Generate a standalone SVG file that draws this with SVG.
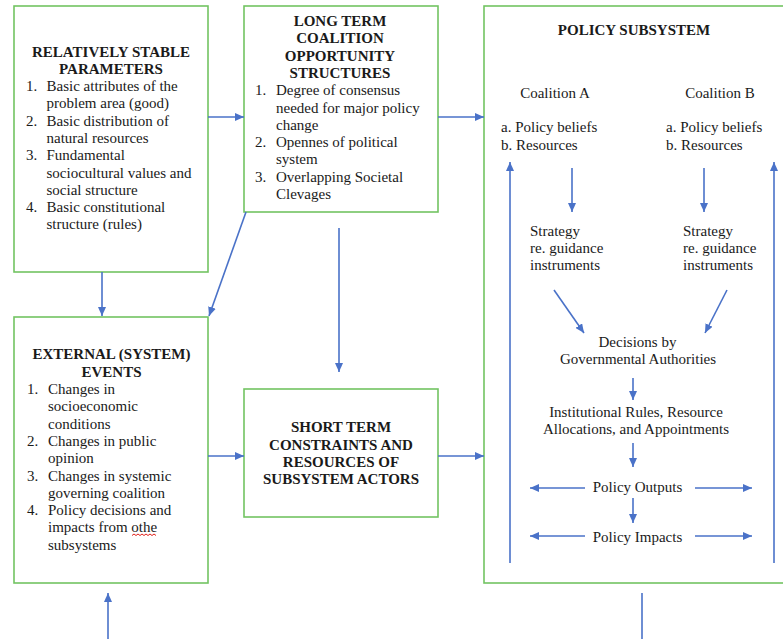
<svg xmlns="http://www.w3.org/2000/svg" width="783" height="639" viewBox="0 0 783 639">
<style>
.box{fill:#fff;stroke:#72c462;stroke-width:1.6}
text{font-family:"Liberation Serif","Times New Roman",serif;font-size:15px;fill:#1a1a1a}
.t{font-weight:bold;text-anchor:middle}
.c{text-anchor:middle}
.ln{stroke:#4a72c8;stroke-width:1.6;fill:none}
.a{marker-end:url(#ah)}
</style>
<defs>
<marker id="ah" markerUnits="userSpaceOnUse" markerWidth="10" markerHeight="8" refX="9" refY="4" orient="auto">
<path d="M0,0 L9,4 L0,8 z" fill="#4a72c8"/>
</marker>
</defs>
<rect width="783" height="639" fill="#fff"/>

<g id="stable">
<rect class="box" x="14" y="6" width="194" height="266"/>
<text class="t" x="111" y="57">RELATIVELY STABLE</text>
<text class="t" x="111" y="74.3">PARAMETERS</text>
<text x="26" y="91">1.</text><text x="46.5" y="91">Basic attributes of the</text>
<text x="46.5" y="108.3">problem area (good)</text>
<text x="26" y="125.6">2.</text><text x="46.5" y="125.6">Basic distribution of</text>
<text x="46.5" y="142.9">natural resources</text>
<text x="26" y="160.2">3.</text><text x="46.5" y="160.2">Fundamental</text>
<text x="46.5" y="177.5">sociocultural values and</text>
<text x="46.5" y="194.8">social structure</text>
<text x="26" y="212.1">4.</text><text x="46.5" y="212.1">Basic constitutional</text>
<text x="46.5" y="229.4">structure (rules)</text>
</g>

<g id="longterm">
<rect class="box" x="244" y="6" width="194" height="206"/>
<text class="t" x="340" y="26">LONG TERM</text>
<text class="t" x="340" y="43.3">COALITION</text>
<text class="t" x="340" y="60.6">OPPORTUNITY</text>
<text class="t" x="340" y="77.9">STRUCTURES</text>
<text x="255" y="95.2">1.</text><text x="276" y="95.2">Degree of consensus</text>
<text x="276" y="112.5">needed for major policy</text>
<text x="276" y="129.8">change</text>
<text x="255" y="147.1">2.</text><text x="276" y="147.1">Opennes of political</text>
<text x="276" y="164.4">system</text>
<text x="255" y="181.7">3.</text><text x="276" y="181.7">Overlapping Societal</text>
<text x="276" y="199">Clevages</text>
</g>

<g id="external">
<rect class="box" x="14" y="317" width="194" height="266"/>
<text class="t" x="111.5" y="359.3">EXTERNAL (SYSTEM)</text>
<text class="t" x="111.5" y="376.6">EVENTS</text>
<text x="27" y="394">1.</text><text x="48" y="394">Changes in</text>
<text x="48" y="411.3">socioeconomic</text>
<text x="48" y="428.6">conditions</text>
<text x="27" y="445.9">2.</text><text x="48" y="445.9">Changes in public</text>
<text x="48" y="463.2">opinion</text>
<text x="27" y="480.5">3.</text><text x="48" y="480.5">Changes in systemic</text>
<text x="48" y="497.8">governing coalition</text>
<text x="27" y="515.1">4.</text><text x="48" y="515.1">Policy decisions and</text>
<text x="48" y="532.4">impacts from othe</text>
<text x="48" y="549.7">subsystems</text>
<path d="M132,535.5 l2,-1.5 l2,1.5 l2,-1.5 l2,1.5 l2,-1.5 l2,1.5 l2,-1.5 l2,1.5 l2,-1.5 l2,1.5 l2,-1.5 l2,1.5" fill="none" stroke="#e0201a" stroke-width="1"/>
</g>

<g id="shortterm">
<rect class="box" x="244" y="389" width="194" height="128"/>
<text class="t" x="341" y="432.3">SHORT TERM</text>
<text class="t" x="341" y="449.6">CONSTRAINTS AND</text>
<text class="t" x="341" y="466.9">RESOURCES OF</text>
<text class="t" x="341" y="484.2">SUBSYSTEM ACTORS</text>
</g>

<g id="subsystem">
<rect class="box" x="484" y="6" width="310" height="577"/>
<text class="t" x="634" y="35">POLICY SUBSYSTEM</text>
<text class="c" x="555" y="98">Coalition A</text>
<text class="c" x="720" y="98">Coalition B</text>
<text x="501" y="132.3">a. Policy beliefs</text>
<text x="501" y="150">b. Resources</text>
<text x="666" y="132.3">a. Policy beliefs</text>
<text x="666" y="150">b. Resources</text>
<text x="530" y="235.5">Strategy</text>
<text x="530" y="252.7">re. guidance</text>
<text x="530" y="270">instruments</text>
<text x="683" y="235.5">Strategy</text>
<text x="683" y="252.7">re. guidance</text>
<text x="683" y="270">instruments</text>
<text class="c" x="637.5" y="346.7">Decisions by</text>
<text class="c" x="638" y="364">Governmental Authorities</text>
<text class="c" x="636" y="416.7">Institutional Rules, Resource</text>
<text class="c" x="636" y="434">Allocations, and Appointments</text>
<text class="c" x="637.5" y="491.7">Policy Outputs</text>
<text class="c" x="637.5" y="541.7">Policy Impacts</text>
</g>

<g id="connectors">
<line class="ln a" x1="208" y1="117" x2="244" y2="117"/>
<line class="ln a" x1="438" y1="117" x2="484" y2="117"/>
<line class="ln a" x1="102" y1="272" x2="102" y2="316"/>
<line class="ln a" x1="246" y1="212" x2="209" y2="316"/>
<line class="ln a" x1="339" y1="228" x2="339" y2="372"/>
<line class="ln a" x1="208" y1="456" x2="244" y2="456"/>
<line class="ln a" x1="438" y1="456" x2="484" y2="456"/>
<line class="ln a" x1="108" y1="639" x2="108" y2="593"/>
<line class="ln" x1="642" y1="593" x2="642" y2="639"/>
<line class="ln a" x1="510" y1="563" x2="510" y2="162"/>
<line class="ln a" x1="774" y1="563" x2="774" y2="162"/>
<line class="ln a" x1="572" y1="168" x2="572" y2="212"/>
<line class="ln a" x1="704" y1="168" x2="704" y2="212"/>
<line class="ln a" x1="554" y1="290" x2="584" y2="333"/>
<line class="ln a" x1="727" y1="290" x2="705" y2="333"/>
<line class="ln a" x1="633" y1="378" x2="633" y2="400"/>
<line class="ln a" x1="633" y1="443" x2="633" y2="467"/>
<line class="ln a" x1="633" y1="498" x2="633" y2="523"/>
<line class="ln a" x1="585" y1="488" x2="530" y2="488"/>
<line class="ln a" x1="695" y1="488" x2="752" y2="488"/>
<line class="ln a" x1="585" y1="536" x2="530" y2="536"/>
<line class="ln a" x1="695" y1="536" x2="752" y2="536"/>
</g>
</svg>
